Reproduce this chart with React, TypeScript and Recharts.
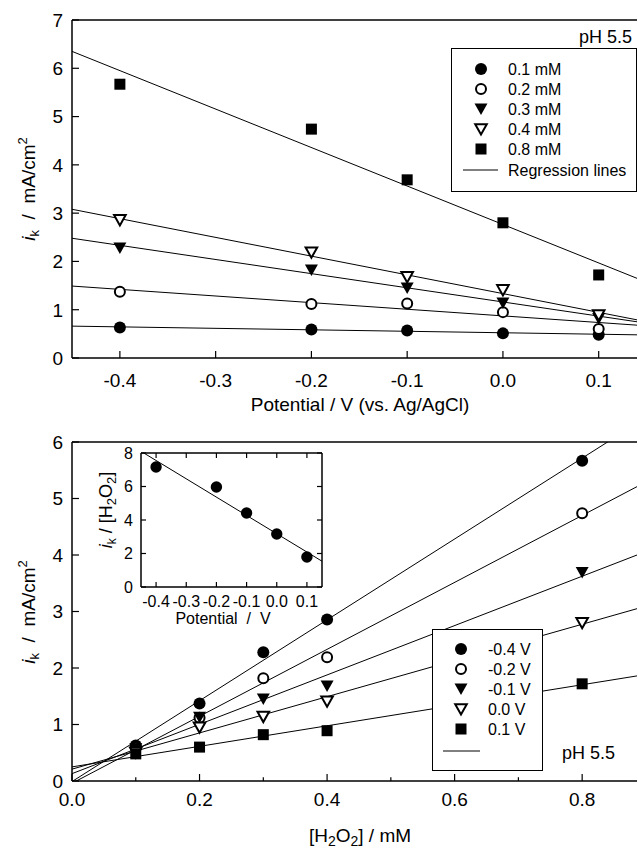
import React from 'react';
import { ComposedChart, Scatter, Line, XAxis, YAxis, ReferenceLine } from 'recharts';

// ---------- data ----------
const potentials = [-0.4, -0.2, -0.1, 0.0, 0.1];
const concentrations = [0.1, 0.2, 0.3, 0.4, 0.8];
const concLabels = ['0.1 mM', '0.2 mM', '0.3 mM', '0.4 mM', '0.8 mM'];
const potLabels = ['-0.4 V', '-0.2 V', '-0.1 V', '0.0 V', '0.1 V'];

// i_k (mA/cm2) for each concentration, across potentials
const ik01mM = [0.63, 0.59, 0.57, 0.51, 0.48];
const ik02mM = [1.37, 1.12, 1.13, 0.95, 0.6];
const ik03mM = [2.28, 1.82, 1.45, 1.14, 0.82];
const ik04mM = [2.86, 2.19, 1.68, 1.41, 0.89];
const ik08mM = [5.67, 4.74, 3.69, 2.8, 1.72];

// regression line endpoints (top panel) at potentials
const topFitX = [-0.45, 0.14];
const topFit01 = [0.66, 0.48];
const topFit02 = [1.49, 0.68];
const topFit03 = [2.48, 0.75];
const topFit04 = [3.08, 0.79];
const topFit08 = [6.35, 1.65];

// regression line endpoints (bottom panel) at concentrations
const botFitX = [0, 0.886];
const botFitM04 = [-0.01, 6.33];
const botFitM02 = [-0.04, 5.21];
const botFitM01 = [0.13, 4.0];
const botFit00 = [0.21, 3.05];
const botFitP01 = [0.25, 1.86];

// inset: slope i_k/[H2O2] vs potential
const insetSlope = [7.16, 5.97, 4.42, 3.16, 1.79];
const insetFitX = [-0.45, 0.15];
const insetFitY = [8.1, 1.54];

// ticks
const topXTicks = [-0.4, -0.3, -0.2, -0.1, 0.0, 0.1];
const topYTicks = [0, 1, 2, 3, 4, 5, 6, 7];
const botXTicks = [0, 0.1, 0.2, 0.3, 0.4, 0.5, 0.6, 0.7, 0.8];
const botXLabels = ['0.0', '', '0.2', '', '0.4', '', '0.6', '', '0.8'];
const botYTicks = [0, 1, 2, 3, 4, 5, 6];
const insetXTicks = [-0.4, -0.3, -0.2, -0.1, 0.0, 0.1];
const insetYTicks = [0, 2, 4, 6, 8];

// ---------- helpers ----------
const FONT = 'Liberation Sans, Arial, Helvetica, sans-serif';
const kinds = ['filledCircle', 'openCircle', 'filledTri', 'openTri', 'square'];

const toPts = (xs: number[], ys: number[]) => xs.map((x, i) => ({ x, y: ys[i] }));

function Marker({ kind, cx, cy, s = 1 }: { kind: string; cx: number; cy: number; s?: number }) {
  if (cx == null || cy == null) return null;
  switch (kind) {
    case 'filledCircle':
      return <circle cx={cx} cy={cy} r={6 * s} fill="#000" />;
    case 'openCircle':
      return <circle cx={cx} cy={cy} r={5 * s} fill="#fff" stroke="#000" strokeWidth={2} />;
    case 'filledTri':
      return (
        <path
          d={`M${cx - 6.5 * s},${cy - 5.5 * s} L${cx + 6.5 * s},${cy - 5.5 * s} L${cx},${cy + 6 * s} Z`}
          fill="#000"
        />
      );
    case 'openTri':
      return (
        <path
          d={`M${cx - 5.8 * s},${cy - 4.8 * s} L${cx + 5.8 * s},${cy - 4.8 * s} L${cx},${cy + 5.5 * s} Z`}
          fill="#fff"
          stroke="#000"
          strokeWidth={2}
          strokeLinejoin="miter"
        />
      );
    case 'square':
      return <rect x={cx - 5.5 * s} y={cy - 5.5 * s} width={11 * s} height={11 * s} fill="#000" />;
    default:
      return null;
  }
}

const shapeFor = (kind: string, s = 1) => (props: any) => <Marker kind={kind} cx={props.cx} cy={props.cy} s={s} />;

const makeXTick =
  (o: { len: number; fs: number; dy: number; labels?: (v: number, i: number) => string; mirrorH?: number }) =>
  (props: any) => {
    const { x, y, payload, index } = props;
    const v = payload.value;
    const label = o.labels ? o.labels(v, index) : v.toFixed(1);
    const len = label === '' ? o.len * 0.55 : o.len;
    return (
      <g>
        <line x1={x} x2={x} y1={y} y2={y - len} stroke="#000" strokeWidth={1.2} />
        {o.mirrorH ? (
          <line x1={x} x2={x} y1={y - o.mirrorH} y2={y - o.mirrorH + len} stroke="#000" strokeWidth={1.2} />
        ) : null}
        <text x={x} y={y + o.dy} textAnchor="middle" fontSize={o.fs} fontFamily={FONT} fill="#000">
          {label}
        </text>
      </g>
    );
  };

const makeYTick =
  (o: { len: number; fs: number; gap: number; mirrorW?: number }) =>
  (props: any) => {
    const { x, y, payload } = props;
    return (
      <g>
        <line x1={x} x2={x + o.len} y1={y} y2={y} stroke="#000" strokeWidth={1.2} />
        {o.mirrorW ? (
          <line x1={x + o.mirrorW} x2={x + o.mirrorW - o.len} y1={y} y2={y} stroke="#000" strokeWidth={1.2} />
        ) : null}
        <text x={x - o.gap} y={y} dy="0.36em" textAnchor="end" fontSize={o.fs} fontFamily={FONT} fill="#000">
          {String(payload.value)}
        </text>
      </g>
    );
  };

const axisLine = { stroke: '#000', strokeWidth: 1.5 };

// ---------- charts ----------
function TopChart() {
  const concSeries = [ik01mM, ik02mM, ik03mM, ik04mM, ik08mM];
  const fits = [topFit01, topFit02, topFit03, topFit04, topFit08];
  return (
    <ComposedChart width={638} height={420} margin={{ top: 20, right: 1, left: 71, bottom: 61 }}>
      <XAxis
        dataKey="x"
        type="number"
        domain={[-0.45, 0.14]}
        allowDataOverflow
        ticks={topXTicks}
        interval={0}
        height={1}
        tickSize={0}
        tickMargin={0}
        tickLine={false}
        axisLine={axisLine}
        tick={makeXTick({ len: 7, fs: 19, dy: 29 })}
      />
      <YAxis
        dataKey="y"
        type="number"
        domain={[0, 7]}
        allowDataOverflow
        ticks={topYTicks}
        interval={0}
        width={1}
        tickSize={0}
        tickMargin={0}
        tickLine={false}
        axisLine={axisLine}
        tick={makeYTick({ len: 7, fs: 19, gap: 9 })}
      />
      <ReferenceLine y={7} stroke="#000" strokeWidth={1.5} />
      {fits.map((f, i) => (
        <Line
          key={'tf' + i}
          data={toPts(topFitX, f)}
          dataKey="y"
          stroke="#000"
          strokeWidth={1}
          dot={false}
          activeDot={false}
          isAnimationActive={false}
          type="linear"
        />
      ))}
      {concSeries.map((s, i) => (
        <Scatter
          key={'ts' + i}
          data={toPts(potentials, s)}
          shape={shapeFor(kinds[i])}
          isAnimationActive={false}
        />
      ))}
    </ComposedChart>
  );
}

function BottomChart() {
  const concSeries = [ik01mM, ik02mM, ik03mM, ik04mM, ik08mM];
  const potSeries = potentials.map((_, pi) => concSeries.map((s) => s[pi]));
  const fits = [botFitM04, botFitM02, botFitM01, botFit00, botFitP01];
  return (
    <ComposedChart width={638} height={428} margin={{ top: 22, right: 1, left: 71, bottom: 66 }}>
      <XAxis
        dataKey="x"
        type="number"
        domain={[0, 0.886]}
        allowDataOverflow
        ticks={botXTicks}
        interval={0}
        height={1}
        tickSize={0}
        tickMargin={0}
        tickLine={false}
        axisLine={axisLine}
        tick={makeXTick({ len: 7, fs: 19, dy: 25, labels: (_v, i) => botXLabels[i] ?? '' })}
      />
      <YAxis
        dataKey="y"
        type="number"
        domain={[0, 6]}
        allowDataOverflow
        ticks={botYTicks}
        interval={0}
        width={1}
        tickSize={0}
        tickMargin={0}
        tickLine={false}
        axisLine={axisLine}
        tick={makeYTick({ len: 7, fs: 19, gap: 9 })}
      />
      <ReferenceLine y={6} stroke="#000" strokeWidth={1.5} />
      {fits.map((f, i) => (
        <Line
          key={'bf' + i}
          data={toPts(botFitX, f)}
          dataKey="y"
          stroke="#000"
          strokeWidth={1}
          dot={false}
          activeDot={false}
          isAnimationActive={false}
          type="linear"
        />
      ))}
      {potSeries.map((s, i) => (
        <Scatter
          key={'bs' + i}
          data={toPts(concentrations, s)}
          shape={shapeFor(kinds[i])}
          isAnimationActive={false}
        />
      ))}
    </ComposedChart>
  );
}

function InsetChart() {
  const plotW = 181;
  const plotH = 134;
  return (
    <ComposedChart width={250} height={200} margin={{ top: 13, right: 8, left: 60, bottom: 52 }}>
      <XAxis
        dataKey="x"
        type="number"
        domain={[-0.45, 0.15]}
        allowDataOverflow
        ticks={insetXTicks}
        interval={0}
        height={1}
        tickSize={0}
        tickMargin={0}
        tickLine={false}
        axisLine={axisLine}
        tick={makeXTick({ len: 5, fs: 16, dy: 20, mirrorH: plotH })}
      />
      <YAxis
        dataKey="y"
        type="number"
        domain={[0, 8]}
        allowDataOverflow
        ticks={insetYTicks}
        interval={0}
        width={1}
        tickSize={0}
        tickMargin={0}
        tickLine={false}
        axisLine={axisLine}
        tick={makeYTick({ len: 5, fs: 16, gap: 8, mirrorW: plotW })}
      />
      <ReferenceLine y={8} stroke="#000" strokeWidth={1.5} />
      <ReferenceLine x={0.15} stroke="#000" strokeWidth={1.5} />
      <Line
        data={toPts(insetFitX, insetFitY)}
        dataKey="y"
        stroke="#000"
        strokeWidth={1}
        dot={false}
        activeDot={false}
        isAnimationActive={false}
        type="linear"
      />
      <Scatter data={toPts(potentials, insetSlope)} shape={shapeFor('filledCircle', 0.95)} isAnimationActive={false} />
    </ComposedChart>
  );
}

// ---------- overlay: titles, legends ----------
const nb = '\u00a0';

function Overlay() {
  const txt = { fontFamily: FONT, fill: '#000' } as const;
  const topRows = [69, 89, 109, 129, 149];
  const botRows = [649, 669, 689, 709, 729];
  return (
    <svg width={638} height={848} style={{ position: 'absolute', left: 0, top: 0, pointerEvents: 'none' }}>
      {/* top y label */}
      <text transform="translate(35,189) rotate(-90)" textAnchor="middle" fontSize={19} {...txt}>
        <tspan fontStyle="italic">i</tspan>
        <tspan fontSize={13} dy={4}>k</tspan>
        <tspan dy={-4}>{`${nb}${nb}/${nb}${nb}mA/cm`}</tspan>
        <tspan fontSize={13} dy={-8}>2</tspan>
      </text>
      {/* top x label */}
      <text x={360} y={411} textAnchor="middle" fontSize={19} {...txt}>
        Potential / V (vs. Ag/AgCl)
      </text>
      <text x={632} y={43} textAnchor="end" fontSize={18} {...txt}>
        pH 5.5
      </text>
      {/* top legend */}
      <rect x={451.5} y={48.5} width={185} height={143} fill="#fff" stroke="#000" strokeWidth={1} />
      {concLabels.map((l, i) => (
        <g key={'tl' + i}>
          <Marker kind={kinds[i]} cx={481} cy={topRows[i]} />
          <text x={508} y={topRows[i] + 6} fontSize={16} {...txt}>
            {l}
          </text>
        </g>
      ))}
      <line x1={463} x2={498} y1={170} y2={170} stroke="#000" strokeWidth={1} />
      <text x={508} y={176} fontSize={16} {...txt}>
        Regression lines
      </text>

      {/* bottom y label */}
      <text transform="translate(35,612) rotate(-90)" textAnchor="middle" fontSize={19} {...txt}>
        <tspan fontStyle="italic">i</tspan>
        <tspan fontSize={13} dy={4}>k</tspan>
        <tspan dy={-4}>{`${nb}${nb}/${nb}${nb}mA/cm`}</tspan>
        <tspan fontSize={13} dy={-8}>2</tspan>
      </text>
      {/* bottom x label */}
      <text x={360} y={842} textAnchor="middle" fontSize={19} {...txt}>
        <tspan>[H</tspan>
        <tspan fontSize={14} dy={4}>2</tspan>
        <tspan dy={-4}>O</tspan>
        <tspan fontSize={14} dy={4}>2</tspan>
        <tspan dy={-4}>] / mM</tspan>
      </text>
      {/* bottom legend */}
      <rect x={432.5} y={629.5} width={110} height={141} fill="#fff" stroke="#000" strokeWidth={1} />
      {potLabels.map((l, i) => (
        <g key={'bl' + i}>
          <Marker kind={kinds[i]} cx={461} cy={botRows[i]} />
          <text x={488} y={botRows[i] + 6} fontSize={16} {...txt}>
            {l}
          </text>
        </g>
      ))}
      <line x1={443} x2={480} y1={751} y2={751} stroke="#000" strokeWidth={1} />
      <text x={562} y={759} fontSize={18} {...txt}>
        pH 5.5
      </text>

      {/* inset labels */}
      <text transform="translate(112,510) rotate(-90)" textAnchor="middle" fontSize={18} {...txt}>
        <tspan fontStyle="italic">i</tspan>
        <tspan fontSize={12} dy={4}>k</tspan>
        <tspan dy={-4}>{`${nb}/${nb}[H`}</tspan>
        <tspan fontSize={13} dy={4}>2</tspan>
        <tspan dy={-4}>O</tspan>
        <tspan fontSize={13} dy={4}>2</tspan>
        <tspan dy={-4}>]</tspan>
      </text>
      <text x={223} y={624} textAnchor="middle" fontSize={16} {...txt}>
        {`Potential${nb}${nb}/${nb}${nb}V`}
      </text>
    </svg>
  );
}

export default function App() {
  return (
    <div style={{ position: 'absolute', left: 0, top: 0, width: 638, height: 848, background: '#fff' }}>
      <div style={{ position: 'absolute', left: 0, top: 0 }}>
        <TopChart />
      </div>
      <div style={{ position: 'absolute', left: 0, top: 420 }}>
        <BottomChart />
      </div>
      <div style={{ position: 'absolute', left: 80, top: 440 }}>
        <InsetChart />
      </div>
      <Overlay />
    </div>
  );
}
